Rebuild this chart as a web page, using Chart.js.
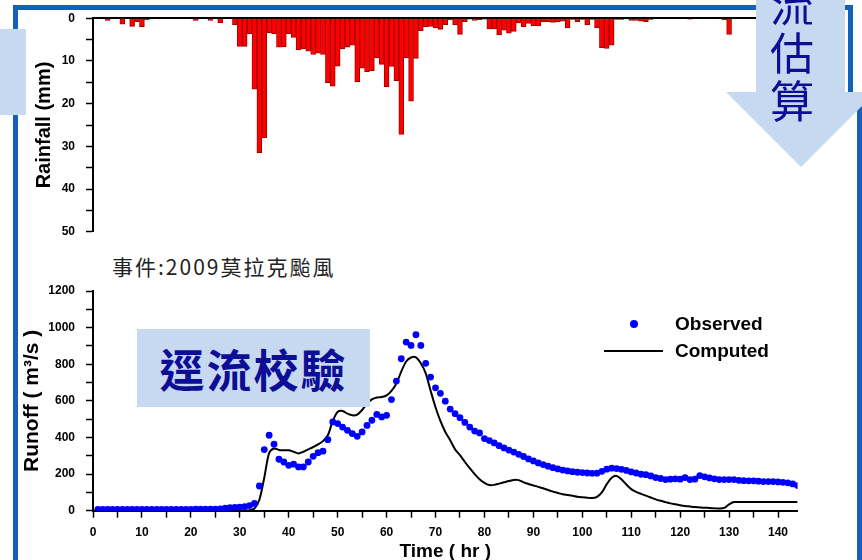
<!DOCTYPE html>
<html lang="zh-Hant">
<head>
<meta charset="UTF-8" />
<title>逕流校驗 - 2009莫拉克颱風</title>
<script src="https://cdn.jsdelivr.net/npm/chart.js"></script>
<style>
  html, body {
    margin: 0;
    padding: 0;
    background: #fff;
  }
  body {
    position: relative;
    width: 862px;
    height: 560px;
    overflow: hidden;
    font-family: 'Liberation Sans', Arial, sans-serif;
  }
  .abs { position: absolute; }
  .frame { position: absolute; background: #1560bd; }
  .pale { position: absolute; background: #c6d9f1; }
  #rainWrap { left: 0; top: 0; width: 862px; height: 250px; z-index: 2; }
  #runoffWrap { left: 0; top: 270px; width: 862px; height: 300px; z-index: 2; }
  #eventTitle {
    left: 112px;
    top: 251px;
    font-family: 'Noto Sans CJK TC', sans-serif;
    font-size: 21px;
    letter-spacing: 2px;
    color: #222;
    white-space: nowrap;
  }
  #calibBox {
    left: 137px; top: 329px; width: 233px; height: 78px;
    display: flex; align-items: center; justify-content: center;
    z-index: 5;
  }
  #calibBox span {
    font-family: 'Noto Sans CJK TC', sans-serif;
    font-size: 45px;
    font-weight: bold;
    letter-spacing: 2px;
    color: #0d0d96;
    line-height: 1;
  }
  #arrowBody { left: 756px; top: 0; width: 89px; height: 92px; z-index: 5; }
  #arrowHead {
    position: absolute; left: 726px; top: 92px; width: 0; height: 0;
    border-left: 75px solid transparent;
    border-right: 75px solid transparent;
    border-top: 75px solid #c6d9f1;
    z-index: 5;
  }
  #arrowText {
    left: 769px; top: -21px; width: 46px;
    font-family: 'Noto Sans CJK TC', sans-serif;
    font-size: 44px; line-height: 48px;
    color: #0d0d96;
    text-align: center;
    z-index: 6;
  }
  .legText {
    position: absolute;
    font-weight: bold;
    font-size: 19px;
    color: #000;
    line-height: 22px;
    z-index: 3;
  }
</style>
</head>
<body>

<!-- slide frame -->
<div class="frame" style="left:13px; top:5px; width:840px; height:5px;"></div>
<div class="frame" style="left:13px; top:5px; width:5px; height:560px;"></div>
<div class="frame" style="left:848px; top:5px; width:5px; height:90px;"></div>
<div class="frame" style="left:857px; top:92px; width:5px; height:470px;"></div>
<div class="pale" style="left:0; top:29px; width:26px; height:86px; z-index:4;"></div>

<div id="rainWrap" class="abs"><canvas id="rainChart" width="862" height="250"></canvas></div>
<div id="eventTitle" class="abs">事件:2009莫拉克颱風</div>
<div id="runoffWrap" class="abs"><canvas id="runoffChart" width="862" height="300"></canvas></div>

<!-- legend -->
<div class="abs" style="left:630px; top:320px; width:8px; height:8px; border-radius:50%; background:#0000ff; z-index:3;"></div>
<div class="legText" style="left:675px; top:313px;">Observed</div>
<div class="abs" style="left:604px; top:350px; width:59px; height:2px; background:#000; z-index:3;"></div>
<div class="legText" style="left:675px; top:340px;">Computed</div>

<div id="calibBox" class="pale"><span>逕流校驗</span></div>

<div id="arrowBody" class="pale"></div>
<div id="arrowHead"></div>
<div id="arrowText" class="abs">流<br>估<br>算</div>

<script>
// hourly data, index = hour (0 .. 144)
var rainfall = [
  0, 0, 0, 0.5, 0, 0, 1.4, 0, 1.9, 0.8,
  2.0, 0.4, 0, 0, 0, 0, 0, 0, 0, 0,
  0, 0.5, 0, 0, 0.5, 0, 1.1, 0, 0, 1.5,
  6.6, 6.6, 3.6, 16.6, 31.5, 28.0, 3.4, 3.6, 6.8, 6.7,
  3.6, 4.5, 7.4, 7.2, 7.7, 8.5, 8.2, 8.5, 15.1, 15.9,
  11.2, 7.2, 6.8, 6.3, 14.9, 11.7, 12.5, 12.3, 9.3, 10.8,
  16.1, 11.3, 14.6, 27.2, 9.3, 19.4, 9.4, 2.9, 2.0, 1.9,
  2.3, 2.6, 1.5, 0.4, 1.5, 3.8, 0.8, 0.2, 0.5, 0.4,
  0.2, 2.5, 2.5, 3.9, 2.8, 3.5, 3.1, 1.1, 2.0, 1.2,
  1.8, 1.8, 0.8, 0.8, 1.0, 0.9, 0.7, 2.3, 0.3, 0.8,
  0.3, 1.6, 0.3, 2.3, 6.9, 7.1, 6.3, 0.3, 0.3, 0,
  0.5, 0.5, 0.7, 0.8, 0.3, 0, 0, 0, 0, 0,
  0, 0, 0.2, 0, 0, 0, 0, 0, 0, 0.4,
  3.8, 0, 0, 0, 0, 0, 0, 0, 0, 0,
  0, 0, 0, 0, 0
];

var observed = [
  null, 7, 7, 7, 7, 7, 7, 7, 7, 7,
  7, 7, 7, 7, 7, 7, 7, 7, 7, 7,
  7, 8, 8, 8, 8, 9, 10, 14, 16, 18,
  20, 22, 28, 40, 135, 334, 412, 363, 281, 266,
  248, 254, 239, 239, 266, 297, 317, 325, 388, 485,
  476, 457, 439, 421, 406, 430, 466, 494, 526, 512,
  521, 607, 708, 830, 921, 903, 961, 903, 805, 730,
  671, 641, 598, 555, 530, 508, 482, 457, 435, 425,
  394, 383, 370, 355, 343, 331, 320, 308, 296, 283,
  272, 261, 252, 243, 235, 228, 222, 217, 213, 210,
  208, 206, 204, 205, 215, 227, 232, 230, 226, 220,
  212, 206, 199, 197, 190, 181, 176, 170, 172, 174,
  172, 181, 170, 172, 192, 185, 179, 174, 170, 170,
  170, 170, 166, 164, 163, 163, 161, 159, 159, 159,
  157, 155, 152, 146, 137
];

var computed = [
  0, 0, 0, 0, 0, 0, 0, 0, 0, 0,
  0, 0, 0, 0, 0, 0, 0, 0, 0, 0,
  0, 0, 0, 0, 0, 0, 0, 0, 0, 0,
  0, 0, 2, 12, 60, 180, 315, 340, 332, 330,
  330, 322, 313, 322, 335, 348, 362, 380, 412, 490,
  540, 545, 530, 521, 525, 550, 585, 608, 618, 621,
  630, 655, 695, 760, 815, 837, 838, 805, 750, 655,
  565, 490, 430, 385, 335, 303, 266, 232, 200, 172,
  152, 140, 141, 148, 155, 162, 168, 167, 155, 146,
  138, 130, 123, 113, 104, 97, 90, 86, 82, 76,
  73, 71, 69, 76, 100, 145, 180, 190, 172, 143,
  118, 103, 92, 82, 72, 62, 54, 47, 40, 35,
  30, 26, 23, 20, 18, 16, 15, 13, 12, 15,
  35, 47, 47, 47, 47, 47, 47, 47, 47, 47,
  47, 47, 47, 47, 47
];

var timeMax = 144;
var rainTicks = [0, 10, 20, 30, 40, 50];
var runoffTicks = [0, 200, 400, 600, 800, 1000, 1200];
var timeTicks = [0, 10, 20, 30, 40, 50, 60, 70, 80, 90, 100, 110, 120, 130, 140];

function toPoints(arr) {
  var pts = [];
  for (var i = 0; i < arr.length; i++) {
    if (arr[i] !== null) pts.push({ x: i, y: arr[i] });
  }
  return pts;
}

Chart.defaults.font.family = "'Liberation Sans', Arial, sans-serif";
Chart.defaults.color = "#000";
Chart.defaults.animation = false;

var tickFont = { size: 12, weight: "bold" };

function yAxis(min, max, step, labels, title, titlePad, reverse) {
  return {
    type: "linear",
    position: "left",
    min: min,
    max: max,
    reverse: reverse,
    afterFit: function(scale) { scale.width = 93; },
    border: { display: true, color: "#000", width: 2 },
    grid: { drawOnChartArea: false, drawTicks: true, tickLength: 7, tickWidth: 1.5, tickColor: "#000" },
    ticks: {
      stepSize: step,
      autoSkip: false,
      padding: 11,
      font: tickFont,
      color: "#000",
      callback: function(v) { return labels.indexOf(v) >= 0 ? v : ""; }
    },
    title: {
      display: true,
      text: title,
      font: title === "Rainfall (mm)" ? { size: 20, weight: "bold" } : { size: 21, weight: "bold" },
      color: "#000",
      padding: { top: titlePad, bottom: 0 }
    }
  };
}

// rainfall hyetograph (inverted)
new Chart(document.getElementById("rainChart").getContext("2d"), {
  type: "bar",
  data: {
    datasets: [{
      data: toPoints(rainfall),
      backgroundColor: "#ff0000",
      borderColor: "#a00000",
      borderWidth: 1,
      barPercentage: 1,
      categoryPercentage: 1
    }]
  },
  options: {
    responsive: false,
    layout: { padding: { left: 0, right: 64.4, top: 0, bottom: 14 } },
    plugins: { legend: { display: false }, tooltip: { enabled: false } },
    scales: {
      x: {
        type: "linear",
        position: "top",
        min: 0,
        max: timeMax,
        offset: false,
        afterFit: function(scale) { scale.height = 15; },
        border: { display: true, color: "#000", width: 2 },
        grid: { display: false, offset: false },
        ticks: { display: false }
      },
      y: yAxis(0, 50, 5, rainTicks, "Rainfall (mm)", 32, true)
    }
  }
});

// runoff hydrograph
new Chart(document.getElementById("runoffChart").getContext("2d"), {
  type: "line",
  data: {
    datasets: [
      {
        label: "Observed",
        data: toPoints(observed),
        showLine: false,
        pointRadius: 3.4,
        pointBackgroundColor: "#0000ff",
        pointBorderWidth: 0,
        borderColor: "#0000ff",
        order: 0
      },
      {
        label: "Computed",
        data: toPoints(computed),
        borderColor: "#000",
        borderWidth: 2,
        pointRadius: 0,
        tension: 0.3,
        fill: false,
        order: 1
      }
    ]
  },
  options: {
    responsive: false,
    layout: { padding: { left: 0, right: 64.4, top: 21, bottom: 0 } },
    plugins: { legend: { display: false }, tooltip: { enabled: false } },
    scales: {
      x: {
        type: "linear",
        position: "bottom",
        min: 0,
        max: timeMax,
        afterFit: function(scale) { scale.height = 59.3; },
        border: { display: true, color: "#000", width: 2 },
        grid: { drawOnChartArea: false, drawTicks: true, tickLength: 7, tickWidth: 1.5, tickColor: "#000" },
        ticks: {
          stepSize: 5,
          includeBounds: false,
          autoSkip: false,
          maxRotation: 0,
          padding: 8,
          font: tickFont,
          color: "#000",
          callback: function(v) { return timeTicks.indexOf(v) >= 0 ? v : ""; }
        },
        title: {
          display: true,
          text: "Time ( hr )",
          font: { size: 19, weight: "bold" },
          color: "#000",
          padding: { top: 0, bottom: 6.6 }
        }
      },
      y: yAxis(0, 1200, 100, runoffTicks, "Runoff ( m³/s )", 19.4, false)
    }
  }
});
</script>

</body>
</html>
